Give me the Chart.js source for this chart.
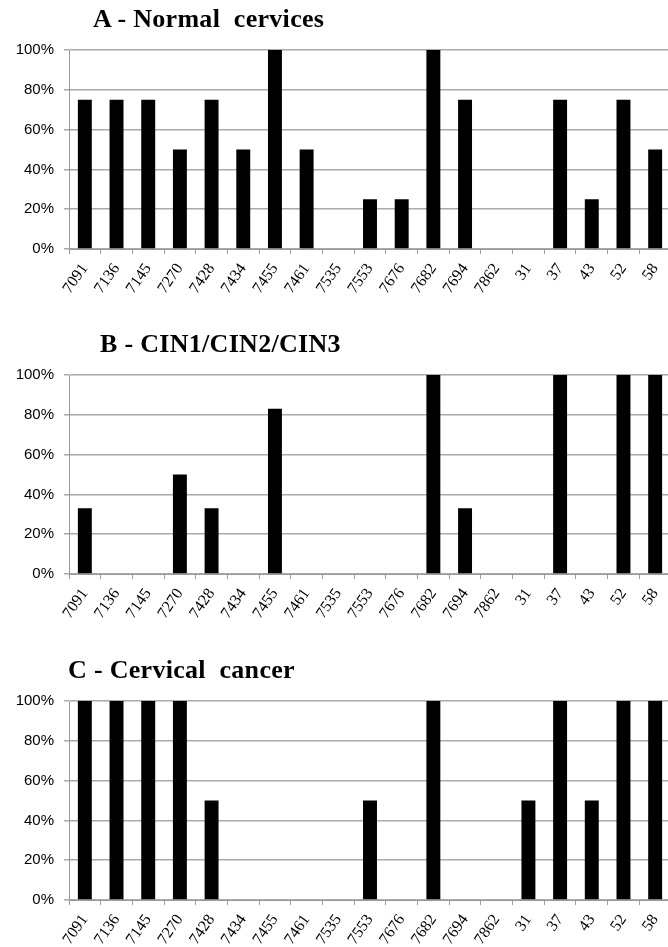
<!DOCTYPE html>
<html>
<head>
<meta charset="utf-8">
<script src="https://cdn.jsdelivr.net/npm/chart.js@4.4.0/dist/chart.umd.min.js"></script>
<style>
  html, body { margin: 0; padding: 0; background: #fff; }
  #page { position: relative; width: 668px; height: 947px; overflow: hidden; }
  .panel { position: absolute; left: 0; width: 680px; height: 320px; }
  .panel canvas { position: absolute; left: 0; top: 0; }
  .title {
    position: absolute; top: 5px; margin: 0;
    font: bold 26px "Liberation Serif", "Times New Roman", serif;
    line-height: 28px; color: #000; white-space: pre; letter-spacing: 0.3px;
  }
</style>
</head>
<body>
<div id="page">
  <div class="panel" style="top:0px"><canvas id="chartA" width="680" height="320"></canvas><div class="title" style="left:93px">A - Normal  cervices</div></div>
  <div class="panel" style="top:325px"><canvas id="chartB" width="680" height="320"></canvas><div class="title" style="left:100px">B - CIN1/CIN2/CIN3</div></div>
  <div class="panel" style="top:651px"><canvas id="chartC" width="680" height="320"></canvas><div class="title" style="left:68px">C - Cervical  cancer</div></div>
</div>
<script>
// categories (HPV variant / type)
const categories = ['7091', '7136', '7145', '7270', '7428', '7434', '7455', '7461', '7535', '7553',
                    '7676', '7682', '7694', '7862', '31', '37', '43', '52', '58'];

// percent per category
const normalValues = [75, 75, 75, 50, 75, 50, 100, 50, 0, 25, 25, 100, 75, 0, 0, 75, 25, 75, 50];
const cinValues    = [33, 0, 0, 50, 33, 0, 83, 0, 0, 0, 0, 100, 33, 0, 0, 100, 0, 100, 100];
const cancerValues = [100, 100, 100, 100, 50, 0, 0, 0, 0, 50, 0, 100, 0, 0, 50, 100, 50, 100, 100];

const yTicks = [0, 20, 40, 60, 80, 100];

function makeChart(id, values) {
    const ctx = document.getElementById(id);
    return new Chart(ctx, {
        type: 'bar',
        data: {
            labels: categories,
            datasets: [{
                data: values,
                backgroundColor: '#000',
                borderWidth: 0,
                barPercentage: 0.88,
                categoryPercentage: 0.5
            }]
        },
        options: {
            responsive: false,
            animation: false,
            layout: { padding: { top: 50, right: 9, left: 0, bottom: 0 } },
            plugins: { legend: { display: false }, tooltip: { enabled: false }, title: { display: false } },
            scales: {
                x: {
                    grid: { display: true, drawOnChartArea: false, drawTicks: true, tickLength: 5, color: '#999', offset: true },
                    border: { color: '#999', width: 1 },
                    ticks: {
                        autoSkip: false,
                        minRotation: 55, maxRotation: 55,
                        color: '#000',
                        padding: 6,
                        font: { family: '"Liberation Serif", "Times New Roman", serif', size: 16 }
                    },
                    afterFit: function (scale) { scale.height = 71; }
                },
                y: {
                    min: 0, max: 100,
                    afterBuildTicks: function (scale) { scale.ticks = yTicks.map(v => ({ value: v })); },
                    grid: { color: '#aaa', lineWidth: 1.5, tickLength: 5 },
                    border: { color: '#999', width: 1 },
                    ticks: {
                        color: '#000',
                        padding: 10,
                        font: { family: '"Liberation Sans Narrow", "Liberation Sans", Arial, sans-serif', size: 15 },
                        callback: function (v) { return v + '%'; }
                    },
                    afterFit: function (scale) { scale.width = 69; }
                }
            }
        }
    });
}

makeChart('chartA', normalValues);
makeChart('chartB', cinValues);
makeChart('chartC', cancerValues);
</script>
</body>
</html>
